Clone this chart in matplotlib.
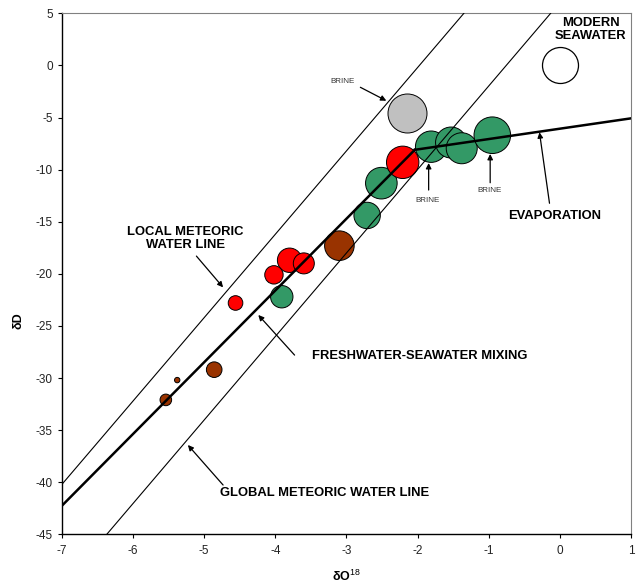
import matplotlib
matplotlib.use('Agg')
import matplotlib.pyplot as plt

plt.rcParams['font.family'] = ['Liberation Sans', 'DejaVu Sans']
plt.rcParams['mathtext.fontset'] = 'custom'
plt.rcParams['mathtext.rm'] = 'Liberation Sans'
plt.rcParams['mathtext.it'] = 'Liberation Sans'
plt.rcParams['axes.unicode_minus'] = False

# sample groups (d18O, dD, bubble size)
red_x = [-2.21, -3.80, -3.60, -4.02, -4.56]
red_y = [-9.3, -18.7, -19.0, -20.1, -22.8]
red_s = [16.2, 12.2, 10.5, 9.2, 7.3]

green_x = [-1.81, -1.53, -1.38, -0.95, -2.51, -2.71, -3.91]
green_y = [-7.8, -7.4, -7.95, -6.7, -11.3, -14.4, -22.2]
green_s = [15.7, 15.5, 15.5, 18.3, 15.8, 13.2, 11.2]

brown_x = [-3.10, -4.86, -5.38, -5.54]
brown_y = [-17.3, -29.2, -30.2, -32.1]
brown_s = [14.8, 7.8, 2.7, 5.8]

brine_x = [-2.15]
brine_y = [-4.6]
brine_s = [19.5]

sea_x = [0.0]
sea_y = [0.0]
sea_s = [18.0]

# reference lines
lmwl_x = [-7.0, -1.35]
lmwl_y = [-40.2, 5.0]
gmwl_x = [-6.37, -0.13]
gmwl_y = [-45.0, 5.0]
mix_x = [-7.0, -2.04]
mix_y = [-42.25, -8.1]
evap_x = [-2.04, 1.0]
evap_y = [-8.1, -5.08]


def area(sizes):
    return [(d * 2 * 0.72) ** 2 for d in sizes]


fig = plt.figure(figsize=(6.37, 5.84), dpi=100)
ax = fig.add_axes([0.0973, 0.0851, 0.8933, 0.8921])

ax.scatter(brine_x, brine_y, s=area(brine_s), c='#C0C0C0', edgecolors='black', linewidths=0.7, zorder=2)
ax.scatter(sea_x, sea_y, s=area(sea_s), c='white', edgecolors='black', linewidths=0.9, zorder=2)
ax.scatter(brown_x, brown_y, s=area(brown_s), c='#993300', edgecolors='black', linewidths=0.7, zorder=2)
ax.scatter(green_x, green_y, s=area(green_s), c='#339966', edgecolors='black', linewidths=0.7, zorder=2)
ax.scatter(red_x, red_y, s=area(red_s), c='#FF0000', edgecolors='black', linewidths=0.7, zorder=2)

ax.plot(lmwl_x, lmwl_y, color='black', lw=0.8, zorder=3)
ax.plot(gmwl_x, gmwl_y, color='black', lw=0.8, zorder=3)
ax.plot(mix_x, mix_y, color='black', lw=1.8, zorder=3)
ax.plot(evap_x, evap_y, color='black', lw=1.8, zorder=3)

ax.set_xlim(-7, 1)
ax.set_ylim(-45, 5)
ax.set_xticks(range(-7, 2))
ax.set_yticks(range(-45, 10, 5))
ax.tick_params(direction='out', length=3, width=0.8, labelsize=8.5, pad=3.5, labelcolor='#222222')
ax.tick_params(axis='x', pad=4.5)
for side in ['top', 'right']:
    ax.spines[side].set_color('#808080')
for side in ['left', 'bottom']:
    ax.spines[side].set_linewidth(1.0)

ax.set_xlabel(r'δO$^{18}$', fontsize=9, fontweight='bold')
ax.xaxis.set_label_coords(0.5, -0.066)
ax.set_ylabel('δD', fontsize=9, fontweight='bold')
ax.yaxis.set_label_coords(-0.065, 0.411)

arrow = dict(arrowstyle='-|>', color='black', lw=0.9, mutation_scale=8, shrinkA=0, shrinkB=0)
bold = dict(fontsize=9.4, fontweight='bold')

ax.annotate('', xy=(-2.44, -3.39), xytext=(-2.805, -2.1), arrowprops=arrow)
ax.text(-3.06, -1.5, 'BRINE', fontsize=5.8, color='#333333', ha='center', va='center')
ax.annotate('', xy=(-1.845, -9.37), xytext=(-1.845, -11.96), arrowprops=arrow)
ax.text(-1.86, -13.0, 'BRINE', fontsize=5.8, color='#333333', ha='center', va='center')
ax.annotate('', xy=(-0.98, -8.5), xytext=(-0.98, -11.26), arrowprops=arrow)
ax.text(-0.985, -11.96, 'BRINE', fontsize=5.8, color='#333333', ha='center', va='center')

ax.annotate('', xy=(-0.287, -6.42), xytext=(-0.146, -13.23), arrowprops=arrow)
ax.text(-0.076, -14.42, 'EVAPORATION', ha='center', va='center', **bold)

ax.text(0.43, 3.45, 'MODERN\nSEAWATER', ha='center', va='center', linespacing=1.05, **bold)

ax.annotate('', xy=(-4.735, -21.3), xytext=(-5.11, -18.3), arrowprops=arrow)
ax.text(-5.27, -16.57, 'LOCAL METEORIC\nWATER LINE', ha='center', va='center', linespacing=1.1, **bold)

ax.annotate('', xy=(-4.24, -23.95), xytext=(-3.73, -27.8), arrowprops=arrow)
ax.text(-3.49, -27.9, 'FRESHWATER-SEAWATER MIXING', ha='left', va='center', **bold)

ax.annotate('', xy=(-5.23, -36.43), xytext=(-4.735, -40.27), arrowprops=arrow)
ax.text(-4.78, -41.07, 'GLOBAL METEORIC WATER LINE', ha='left', va='center', **bold)

fig.savefig('out.png', dpi=100)
